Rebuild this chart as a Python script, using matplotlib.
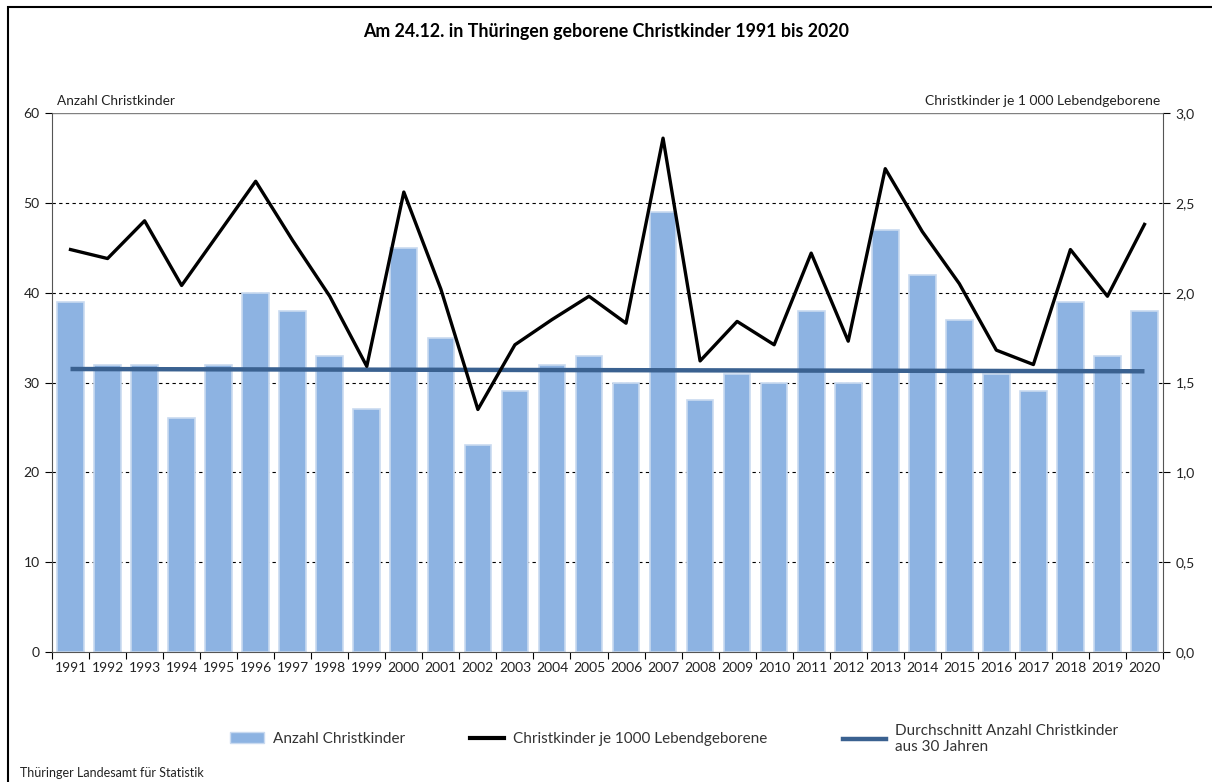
import matplotlib
matplotlib.use("Agg")
import matplotlib.pyplot as plt
from matplotlib.patches import Rectangle, Patch
from matplotlib.lines import Line2D
import numpy as np

plt.rcParams['font.family'] = ['Lato', 'DejaVu Sans']

years = [str(y) for y in range(1991, 2021)]
anzahl = [39, 32, 32, 26, 32, 40, 38, 33, 27, 45,
          35, 23, 29, 32, 33, 30, 49, 28, 31, 30,
          38, 30, 47, 42, 37, 31, 29, 39, 33, 38]
je1000 = [2.24, 2.19, 2.40, 2.04, 2.33, 2.62, 2.29, 1.98, 1.59, 2.56,
          2.02, 1.35, 1.71, 1.85, 1.98, 1.83, 2.86, 1.62, 1.84, 1.71,
          2.22, 1.73, 2.69, 2.34, 2.05, 1.68, 1.60, 2.24, 1.98, 2.38]
avg_years = ["1991", "2020"]
avg_values = [31.5, 31.25]

left_labels = ["0", "10", "20", "30", "40", "50", "60"]
right_labels = ["0,0", "0,5", "1,0", "1,5", "2,0", "2,5", "3,0"]

W, H = 1212, 782
fig = plt.figure(figsize=(W / 100, H / 100), dpi=100)
ax = fig.add_axes([52 / W, 1 - 652 / H, (1163 - 52) / W, (652 - 113) / H])
ax2 = ax.twinx()

x = np.arange(len(years))
bar_color = "#8DB3E2"
ax.bar(x, anzahl, width=0.72, color=bar_color, edgecolor="#C9DAF0", linewidth=1.2, zorder=2)

# gridlines
for v in range(10, 60, 10):
    ax.axhline(v, color="black", linewidth=0.8, linestyle=(0, (3, 3)), zorder=1)
ax.axhline(60, color="#808080", linewidth=1.0, zorder=1)

pos = {y: i for i, y in enumerate(years)}
ax.plot([pos[y] for y in avg_years], avg_values, color="#3A6190", linewidth=3.2,
        solid_capstyle="butt", zorder=4)

ax2.plot(x, je1000, color="black", linewidth=2.4, zorder=5)

ax.set_xlim(-0.5, len(years) - 0.5)
ax.set_ylim(0, 60)
ax2.set_ylim(0, 3)

ax.set_yticks(range(0, 61, 10))
ax.set_yticklabels(left_labels)
ax2.set_yticks(np.arange(0, 3.01, 0.5))
ax2.set_yticklabels(right_labels)

ax.set_xticks(x)
ax.set_xticklabels(years)
ax.set_xticks(np.arange(-0.5, len(years)), minor=True)
ax.tick_params(axis="x", which="major", length=0, pad=7, labelsize=10, labelcolor="#222222")
ax.tick_params(axis="x", which="minor", length=5, width=0.8, direction="out")
ax.tick_params(axis="y", length=5, width=0.8, direction="out", labelsize=10, labelcolor="#222222", pad=4)
ax2.tick_params(axis="y", length=5, width=0.8, direction="out", labelsize=10, labelcolor="#222222", pad=4)

for a in (ax, ax2):
    a.spines["top"].set_visible(False)
for s in ("left", "right", "bottom"):
    ax.spines[s].set_color("#555555")
    ax2.spines[s].set_color("#555555")
ax.spines["right"].set_visible(False)
ax2.spines["left"].set_visible(False)
ax2.spines["bottom"].set_visible(False)

ax.set_zorder(1)
ax2.set_zorder(2)
ax2.patch.set_visible(False)

# labels
fig.text(0.5, 1 - 31 / H, "Am 24.12. in Thüringen geborene Christkinder 1991 bis 2020",
         ha="center", va="center", fontsize=12.8, fontweight="bold")
fig.text(57 / W, 1 - 101 / H, "Anzahl Christkinder", ha="left", va="center", fontsize=9.8, color="#222222")
fig.text(1160 / W, 1 - 101 / H, "Christkinder je 1 000 Lebendgeborene", ha="right", va="center",
         fontsize=10, color="#222222")
fig.text(20 / W, 1 - 773 / H, "Thüringer Landesamt für Statistik", ha="left", va="center",
         fontsize=9, color="#222222")

entries = [
    (Patch(facecolor=bar_color, edgecolor="#C9DAF0"), "Anzahl Christkinder", 230, 2.2),
    (Line2D([], [], color="black", linewidth=3), "Christkinder je 1000 Lebendgeborene", 470, 2.2),
    (Line2D([], [], color="#3A6190", linewidth=3.2), "Durchschnitt Anzahl Christkinder\naus 30 Jahren", 843, 2.8),
]
for h, lab, xl, hl in entries:
    fig.legend([h], [lab], loc="center left", bbox_to_anchor=(xl / W, 1 - 739 / H),
               frameon=False, fontsize=11, handlelength=hl, handletextpad=0.6,
               borderpad=0, borderaxespad=0, labelcolor="#333333")

# outer frame
fig.add_artist(Rectangle((8 / W, -0.01), 1.02, 1 - 7 / H + 0.01, transform=fig.transFigure,
                         fill=False, edgecolor="black", linewidth=1.5))

fig.savefig("out.png", dpi=100)
